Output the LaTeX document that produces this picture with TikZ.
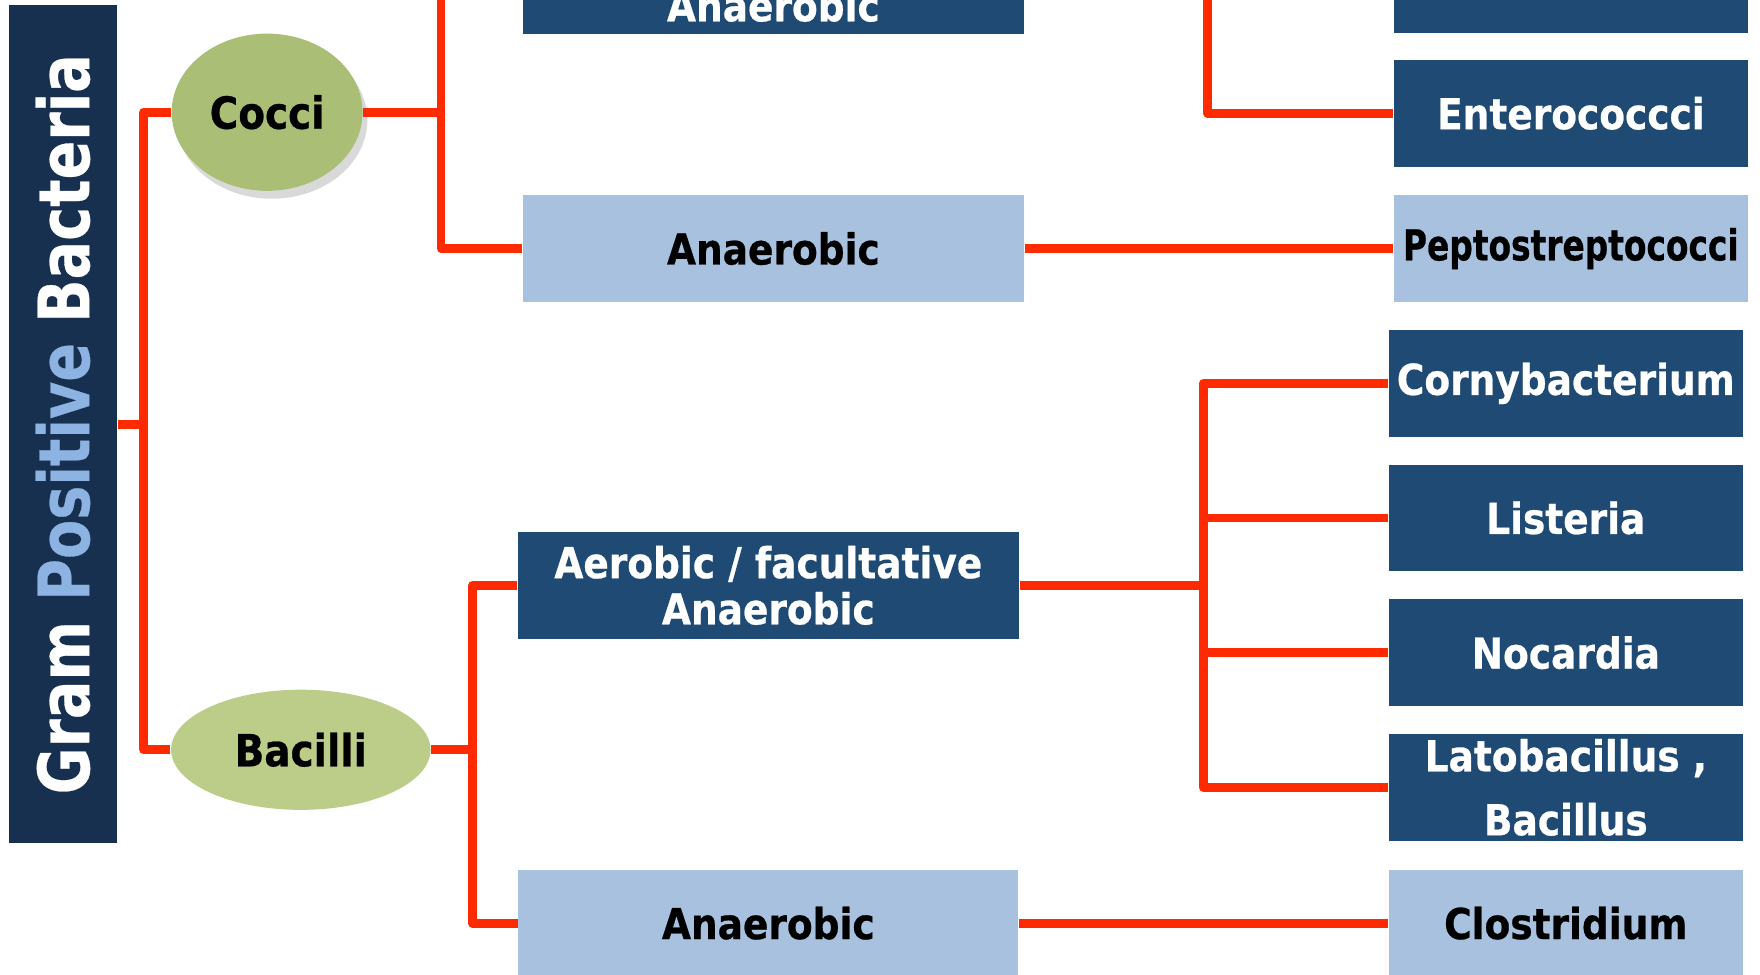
\documentclass[tikz,border=0pt]{standalone}
\usepackage{fontspec}
\usepackage{tikz}
\usetikzlibrary{shapes, shadows}
\newfontfamily\boxfont[FakeStretch=0.88, FakeBold=0.6]{DejaVu Sans Bold}
\newfontfamily\narrowfont[FakeStretch=0.77, FakeBold=0.6]{DejaVu Sans Bold}
\newfontfamily\titlefont[FakeStretch=0.81, FakeBold=0.4]{DejaVu Sans Bold}
\definecolor{titlebg}{HTML}{17304F}
\definecolor{poscol}{HTML}{8DB3E2}
\definecolor{darkblue}{HTML}{1F4A73}
\definecolor{lightblue}{HTML}{A7C1DF}
\definecolor{linkred}{HTML}{FF2A00}
\definecolor{coccigreen}{HTML}{AABE76}
\definecolor{bacgreen}{HTML}{BBCD88}

\tikzset{
  darkbox/.style={rectangle, fill=darkblue, text=white, inner sep=0pt,
    minimum width=4.46cm, minimum height=0.95cm, align=center,
    font=\boxfont\fontsize{10.8}{11.7}\selectfont},
  lightbox/.style={darkbox, fill=lightblue, text=black},
  leaf/.style={minimum width=3.15cm},
  blob/.style={ellipse, inner sep=0pt, text=black,
    font=\boxfont\fontsize{11.2}{13}\selectfont},
  link/.style={draw=linkred, line width=2.2pt, line join=round}
}

\begin{document}
\begin{tikzpicture}[x=0.01cm, y=-0.01cm]
\useasboundingbox (0,0) rectangle (1568,868);
\clip (0,0) rectangle (1568,868);

\node[rectangle, fill=titlebg, text=white, rotate=90, inner sep=0pt,
  minimum width=7.46cm, minimum height=0.96cm,
  font=\titlefont\fontsize{17.9}{20}\selectfont] (title) at (56,378)
  {Gram {\color{poscol}Positive} Bacteria};

\node[blob, fill=coccigreen, minimum width=1.70cm, minimum height=1.40cm,
  drop shadow={opacity=0.3, shadow xshift=1.2pt, shadow yshift=-2pt}] (cocci) at (238,100) {Cocci};
\node[blob, fill=bacgreen, minimum width=2.31cm, minimum height=1.07cm] (bacilli) at (268,668) {Bacilli};

\node[darkbox] (topA) at (689,-17.5) {\strut\\Anaerobic};
\node[lightbox] (anaC) at (689,221.5) {Anaerobic};
\node[darkbox] (aero) at (684.5,521.5) {Aerobic / facultative\\Anaerobic};
\node[lightbox, minimum width=4.45cm] (anaB) at (684.5,822.5) {Anaerobic};

\node[darkbox, leaf] (topR) at (1399.5,-18) {};
\node[darkbox, leaf] (entero) at (1399.5,101) {Enterococcci};
\node[lightbox, leaf, font=\narrowfont\fontsize{10.8}{11.7}\selectfont] (pepto) at (1399.5,221.5) {Peptostreptococci};
\node[darkbox, leaf] (corny) at (1395,341.5) {Cornybacterium};
\node[darkbox, leaf] (listeria) at (1395,461.5) {Listeria};
\node[darkbox, leaf] (nocardia) at (1395,581.5) {Nocardia};
\node[darkbox, leaf, font=\boxfont\fontsize{10.8}{16.2}\selectfont] (lato) at (1395,701.5) {Latobacillus ,\\Bacillus};
\node[lightbox, leaf] (clos) at (1395,822.5) {Clostridium};

\coordinate (trunk) at (128,378);
\coordinate (cj) at (393,100);
\coordinate (tj) at (1076,-17.5);
\coordinate (bj) at (421,668);
\coordinate (aj) at (1072,521.5);

\draw[link] (trunk) -- (title);
\draw[link] (cocci.west) -| (trunk);
\draw[link] (bacilli.west) -| (trunk);
\draw[link] (cocci.east) -- (cj);
\draw[link] (topA.west) -| (cj) |- (anaC.west);
\draw[link] (anaC) -- (pepto);
\draw[link] (topA) -- (topR);
\draw[link] (tj) |- (entero.west);
\draw[link] (bacilli.east) -- (bj);
\draw[link] (aero.west) -| (bj) |- (anaB.west);
\draw[link] (aero.east) -- (aj);
\draw[link] (corny.west) -| (aj) |- (lato.west);
\draw[link] (aj) |- (listeria.west);
\draw[link] (aj) |- (nocardia.west);
\draw[link] (anaB) -- (clos);
\end{tikzpicture}
\end{document}
